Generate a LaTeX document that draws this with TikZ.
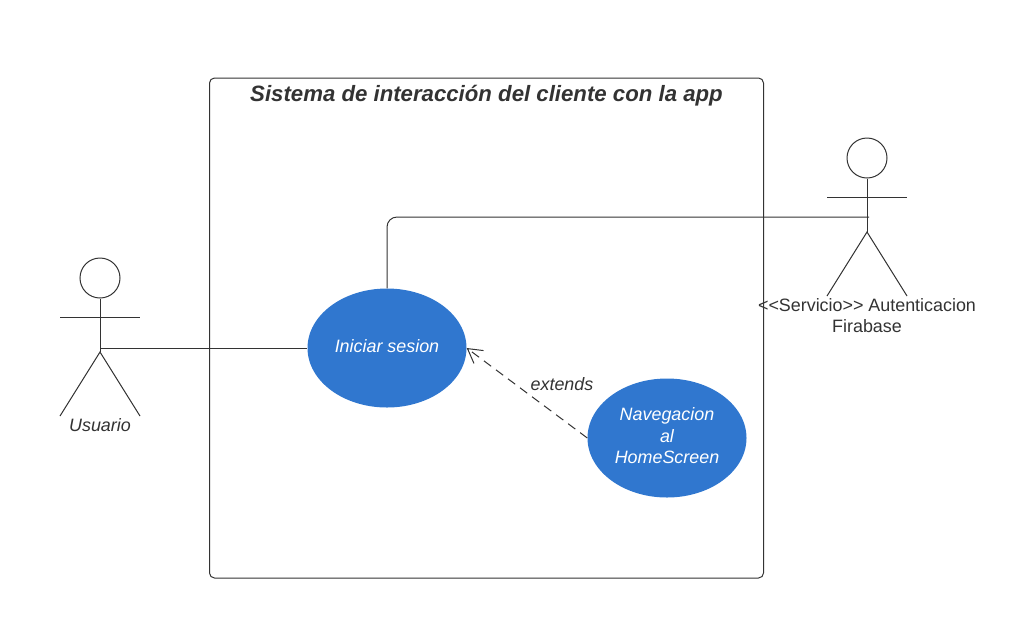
\documentclass[tikz,border=0pt]{standalone}
\usepackage{fontspec}
\setmainfont{Liberation Sans}
\usetikzlibrary{shapes.geometric,arrows.meta}
\definecolor{ucblue}{HTML}{3077CF}
\definecolor{ink}{HTML}{333333}
\tikzset{
  x=1pt,y=-1pt,
  line/.style={draw=ink,line width=1pt},
  usecase/.style={ellipse,fill=ucblue,minimum width=159pt,minimum height=119pt,inner sep=0pt,text=white,font=\fontsize{17.9}{21.5}\selectfont\itshape,align=center},
  label/.style={text=ink,inner sep=0pt,align=center,font=\fontsize{17.9}{21.5}\selectfont},
  head/.style={circle,line,minimum size=40pt,inner sep=0pt},
}
\begin{document}
\begin{tikzpicture}
\useasboundingbox (0,0) rectangle (1014,638);
\node[rectangle,rounded corners=5pt,line,minimum width=554pt,minimum height=500pt,inner sep=0pt] (frame) at (486.5,328) {};
\node[text=ink,inner sep=0pt,font=\fontsize{22.2}{26}\selectfont\bfseries\itshape] (title) at (486.5,96) {Sistema de interacción del cliente con la app};
\node[usecase] (login) at (387,348) {};
\node[text=white,inner sep=0pt,font=\fontsize{17.9}{21.5}\selectfont\itshape] (logintext) at (387,346) {Iniciar sesion};
\node[usecase] (nav) at (667,438) {};
\node[text=white,inner sep=0pt,align=center,font=\fontsize{17.9}{21.5}\selectfont\itshape] (navtext) at (667,436) {Navegacion\\al\\HomeScreen};
% left actor
\node[head] (uhead) at (100,278) {};
\coordinate (uhip) at (100,352);
\coordinate (uarmL) at (60,317);
\coordinate (uarmR) at (140,317);
\coordinate (ulegL) at (60,416);
\coordinate (ulegR) at (140,416);
\coordinate (uhook) at (100,348);
\draw[line] (uhead) -- (uhip);
\draw[line] (uarmL) -- (uarmR);
\draw[line] (ulegL) -- (uhip) -- (ulegR);
\node[label,font=\fontsize{17.9}{21.5}\selectfont\itshape] (ulabel) at (100,425) {Usuario};
% right actor
\node[head] (shead) at (867,158) {};
\coordinate (ship) at (867,232);
\coordinate (sarmL) at (827,197);
\coordinate (sarmR) at (907,197);
\coordinate (slegL) at (827,296);
\coordinate (slegR) at (907,296);
\coordinate (shook) at (869,217);
\draw[line] (shead) -- (ship);
\draw[line] (sarmL) -- (sarmR);
\draw[line] (slegL) -- (ship) -- (slegR);
\node[label] (slabel) at (867,315.5) {<{}<Servicio>{}> Autenticacion\\Firabase};
% connectors
\draw[line] (uhook) -- (login.west);
\draw[line,rounded corners=10pt] (login.north) |- (shook);
\draw[line,dash pattern=on 9pt off 6pt,-{Straight Barb[length=14pt,width=16pt,line width=1pt]}] (nav.west) -- (login.east);
\node[label,font=\fontsize{17.9}{21.5}\selectfont\itshape] (ext) at (562,384) {extends};
\end{tikzpicture}
\end{document}
